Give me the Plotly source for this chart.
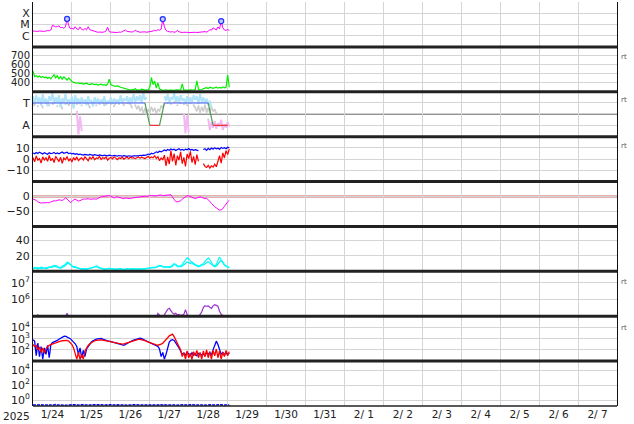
import math
import pandas as pd
import plotly.graph_objects as go
from plotly.subplots import make_subplots

# ---------------- data ----------------
START = "2025-01-24 00:00"
X_RANGE = ["2025-01-24 00:00", "2025-02-08 00:00"]
DAY_LABELS = ["1/24", "1/25", "1/26", "1/27", "1/28", "1/29", "1/30", "1/31",
              "2/ 1", "2/ 2", "2/ 3", "2/ 4", "2/ 5", "2/ 6", "2/ 7"]
YEAR_LABEL = "2025"

# Panel 1: X-ray flux (units of 1e-6 W/m2), hourly
xray_c = [2.6, 2.5, 2.8, 2.4, 2.6, 2.5, 2.7, 2.4, 2.6, 2.9, 2.7, 3.2,
          8.5, 7.0, 6.0, 6.5, 7.5, 5.0, 5.5, 4.6, 6.0,
          31,
          8.0, 4.2, 4.6, 3.8, 6.3, 4.0, 3.5, 6.0, 3.6, 3.2, 4.4, 3.3, 6.2, 3.4, 3.0, 2.8,
          2.4, 2.1, 2.0, 2.1, 1.9, 2.0, 2.2, 2.6, 5.6, 2.3,
          2.1, 2.0, 2.2, 2.0, 1.9, 2.1, 2.0, 2.3, 2.6, 3.2, 2.4, 2.2, 2.0, 2.1, 2.3, 3.0,
          2.5, 2.2, 2.0, 2.1, 2.3, 2.2, 2.0, 2.1, 2.4, 2.3, 2.6, 3.0, 2.7, 3.4, 3.0, 3.8,
          30,
          6.0, 3.0, 2.4, 2.2, 2.1, 2.3, 2.0, 2.2, 2.9, 2.2, 2.0, 1.9, 2.0, 2.1, 2.0, 1.9,
          2.0, 2.1, 2.2, 2.0, 1.9, 2.0, 2.1, 2.0, 2.2, 2.3, 2.1, 2.4,
          3.5, 3.0, 5.0, 3.6, 3.2, 6.0, 4.0,
          20,
          5.0, 3.2, 3.0, 3.4, 3.0]
flare_hours = [21, 80, 116]
flare_peak_c = [31, 30, 20]
XMC_TICKS = [1e-6, 1e-5, 1e-4]
XMC_LABELS = ["C", "M", "X"]

# Panel 2: solar wind speed (km/s)
speed = [530, 470, 480, 465, 475, 460, 470, 455, 465, 450, 460, 445,
         470, 490, 455, 480, 445, 470, 440, 465, 450, 430, 455, 430, 415,
         405, 400, 395, 400, 390, 395, 385, 390, 395, 385, 380, 390, 385, 380, 385,
         375, 380, 385, 375, 380, 370, 385,
         440, 380,
         370, 365, 360, 365, 355, 350, 345, 340, 335, 330,
         322, 318, 325, 320, 335, 318, 320, 316, 330, 320, 318, 322, 320,
         350, 459, 380, 420, 340, 400, 330,
         320, 315, 318, 322, 316, 320, 318, 315, 320, 317, 322, 318, 320,
         389,
         318, 320, 316, 319, 322, 317, 320, 325,
         422,
         330, 320, 325, 335, 340, 345, 335, 350, 340, 338, 345, 352, 340, 348, 342, 355, 345, 350,
         489, 350]

# Panel 3: IMF sector (T = 3, A = 1)
sector_lightblue = [3.6, 2.9, 3.7, 3.1, 3.5, 2.8, 3.8, 3.0, 3.4, 2.7, 3.6, 3.2, 3.9, 2.9, 3.5, 3.0,
                    3.7, 2.6, 3.4, 3.1, 3.8, 2.9, 3.3, 3.0, 3.6, 2.5, 3.7, 3.1, 3.4, 2.9, 3.5, 3.0,
                    3.3, 2.8, 3.6, 3.1, 3.2, 2.7, 3.5, 3.0, 3.4, 2.9, 3.3, 3.1, 3.6, 2.8, 3.2, 3.0,
                    3.5, 2.9, 3.4, 3.1, 3.3, 2.9, 3.7, 3.0, 3.4, 3.2, 3.6, 2.9, 3.5, 3.1, 3.8, 3.0,
                    3.6, 3.2, 3.7, 3.0, 3.9, 3.3, 3.5,
                    None, None, None, None, None, None, None, None, None, None,
                    3.6, 3.2, 3.8, 3.0, 3.5, 3.3, 3.9, 3.1, 3.6, 3.0, 3.7, 3.2, 3.4, 2.9, 3.6,
                    3.1, 3.5, 3.0, 3.7, 3.3, 3.6, 2.9, 3.8, 3.1, 3.5, 3.0, 3.4, 2.8, 3.2, 2.6,
                    None, None, None, None, None, None, None, None, None, None, None]
sector_gray = [3.0, 2.8, None, 2.7, None, 2.9, 2.6, None, 3.0, None, 2.8, None, 2.9, 3.1, None, 2.7,
               None, 3.0, 2.5, None, 2.9,
               None, 2.8, 3.0, None, 2.7, None, 2.9, 3.1, None, 2.8, None, 3.0, None, 2.9, 2.6,
               None, 3.0, None, 2.8, None,
               2.9, None, 3.1, 2.8, None, 3.0, None, 2.9, None, 2.7, 3.0, None, 2.9, None, 3.1,
               2.8, None, 3.0, None, 2.9, 2.6, None, 2.8, 2.5, 2.7,
               2.3, 2.6, 2.1, 2.5, 2.0, 2.4, 2.2, 2.6, 2.3, 2.5, 2.1, 2.4, 2.3, 2.7, 2.6, 2.9,
               None, 3.0, None, 2.9, None, 3.1, None, 2.8, None, 3.0, None, 2.9, None, 2.8, None, 3.0,
               None, 2.8,
               2.6, 2.3, 2.7, 2.2, 2.6, 2.3, 2.8, 2.2, 2.5, 2.2, 2.6, 2.3, 2.4, 2.1,
               None, None, None, None, None, None, None, None]
sector_pink = ([None] * 27 + [2.3, 0.2, 1.8, 0.5] + [None] * 62 + [2.1, 0.3, 1.9, 0.4]
               + [None] * 11
               + [1.6, 0.6, 1.3, 0.8, 1.4, 0.7, 1.2, 0.9, 1.5, 0.6, 1.1, 0.8, 1.3, 0.9])
sector_step_hours = [0, 69, 72, 78, 81, 108, 111, 120]
sector_step_value = [3, 3, 1, 1, 3, 3, 1, 1]
SECTOR_TICKS = [1, 3]
SECTOR_LABELS = ["A", "T"]
SECTOR_MID = 2

# Panel 4: IMF Bt (blue) and Bz (red), nT
bt = [5.5, 4.8, 5.9, 5.0, 6.2, 5.3, 4.6, 5.8, 5.1, 4.4, 5.6, 4.9, 5.2, 6.0, 4.7, 5.5,
      4.8, 5.9, 6.4, 5.2, 5.8, 6.1, 4.9, 5.4, 4.6, 5.0, 4.3, 4.8, 4.1, 4.5,
      4.0, 3.6, 4.2, 3.8, 3.5, 4.1, 3.7, 3.3, 3.9, 3.5, 3.2, 3.8, 3.4, 3.0, 3.6, 3.3,
      2.9, 3.5, 3.1, 2.8, 3.4, 3.0, 2.7, 3.2, 2.9, 2.6, 3.1, 2.8, 2.5, 3.0, 2.7, 2.5,
      3.0, 2.8, 3.2, 2.9, 3.4, 3.1, 3.6, 3.3,
      3.8, 4.5, 4.0, 5.2, 4.6, 5.8, 6.5, 5.9, 7.0, 6.4, 7.6, 8.2,
      7.5, 8.6, 7.9, 9.0, 8.2, 8.8, 7.6, 8.5, 9.2, 8.0, 8.7, 7.8, 8.9, 8.3, 9.4, 8.1,
      8.6, 7.9, 8.4,
      8.0, 7.5, None, None,
      8.5, 9.2, 7.8, 9.6, 8.4, 9.9, 8.8, 10.2, 9.1, 9.8, 8.7, 10.4, 9.5, 10.1, 9.3, 10.6, 10.0]
bz = [1.5, -2.5, 2.8, -1.0, 0.5, -3.5, 2.0, -0.8, 1.2, -2.0, 3.2, -1.5, 0.8, -3.0, 2.5, 0.0,
      -2.2, 1.8, -3.8, 1.0, -0.5, 2.4, -1.8, 0.6, -2.6, 1.4, -0.9, 2.0, -1.4, 0.3,
      1.2, -0.8, 2.0, 0.4, -1.5, 1.6, 0.2, 2.2, -0.6, 1.0, 0.5, 2.4, -0.3, 1.3, 0.6, 1.9,
      -1.0, 0.8, 1.5, 0.2, 2.0, 0.9, -0.4, 1.2, 0.5, 1.7, 0.0, 1.0, 1.6, 0.3, 1.9, 0.8,
      1.2, 0.4, 1.5, 2.0, 0.7, 1.8, 1.1, 0.5,
      1.5, 2.5, 0.8, 2.0, 1.2, 3.0, 0.5, 2.2, -1.5, 1.0, -0.5, 3.5,
      -6.0, 2.0, -4.5, 7.5, -2.0, 5.0, -5.5, 3.0, -1.0, 6.5, -4.0, 1.5, -6.5, 4.5, 0.5, 7.0,
      -3.0, 2.5, -5.0,
      4.0, -2.0, None, None,
      -4.0, -6.5, -7.5, -5.5, -8.0, -6.0, -7.2, -4.5, -6.8, -2.0, 3.0, -3.5, 5.5, 1.0, 7.5, 4.0, 9.0]

# Panel 5: Dst index (nT)
dst = [-8, -10, -13, -18, -21, -22, -21, -22, -21, -20, -21, -18, -15, -14, -15, -13,
       -11, -12, -13, -10, -5, -8, -15, -20, -17, -11, -9, -12, -15, -14, -11, -8,
       -9, -8, -7, -9, -8, -7, -8, -9, -6, -3, -1, 0, 1, 2, 3, 3,
       1, -2, -5, -2, -1, -3, -5, -6, -7, -5, -6, -8, -7, -5, -4, -3,
       -2, -2, -1, -1, 0, 1, 0, 2, 3, 3, 2, 3, 2, 4, 5, 5,
       3, 4, 3, 5, 7, 6, -2, -10, -17, -18, -17, -14, -9, -4, 0, 3,
       2, 0, -1, -3, -7, -5, -2, -1, -3, -5, -7, -6, -10, -16, -23, -30,
       -34, -38, -43, -46, -44, -41, -33, -23, -18, -13]

# Panel 6: two cyan series
cyan_a = [4, 5, 3.5, 5, 4, 5.5, 4, 3.5, 5, 4.5, 5, 6, 7,
          7.5, 6, 5, 4.5, 5, 6, 7, 9,
          12, 10, 8, 7, 6, 6, 5,
          4, 3.5, 3.5, 3, 3.5, 3, 3.5, 4, 4.5, 5,
          6, 6.5, 5, 4, 3.5,
          3.5, 3, 3, 3.5, 4, 3.5, 3, 3, 2.5, 3, 3.5, 3, 2.5, 2.5, 3, 3, 2.5, 3, 3.5, 3,
          3, 2.5, 3, 3, 3.5, 3, 3.5, 4, 4,
          4.5, 5, 4.5, 5, 5.5, 6.5, 7.5, 6.5, 5.5,
          5, 5.5, 6, 5, 6, 8, 10, 8, 6,
          6, 7, 9, 12, 15, 17.5, 16,
          13, 11, 9, 8, 7.5, 7, 6.5, 8,
          10, 13, 16, 17.5, 15, 11, 8, 7,
          9, 14, 18.5, 15, 11, 9, 7, 6, 5]
cyan_b = [3, 3.5, 4.5, 3, 4.5, 3.5, 5, 4, 3.5, 4, 6, 5, 5.5,
          6, 7.5, 6, 5.5, 4, 5, 6, 7.5,
          10, 11, 9, 6.5, 5, 5, 4.5,
          3.5, 3, 3, 3.5, 3, 2.5, 3, 3.5, 4, 4.5,
          5.5, 7, 6, 4.5, 3,
          3, 2.5, 3, 3, 3.5, 3, 3.5, 2.5, 3, 2.5, 3, 3.5, 3, 3, 2.5, 3.5, 3, 3, 2.5, 3.5,
          3, 3, 3.5, 2.5, 3, 3.5, 3, 3.5, 4.5,
          4, 4.5, 5.5, 4.5, 5, 6, 7, 7.5, 6,
          5.5, 5, 5.5, 6, 5.5, 7, 9, 9, 7,
          6.5, 6, 7, 8, 10, 12, 11,
          10, 12, 10, 8, 7, 6, 7, 9,
          8, 10, 11, 12.5, 10, 9, 7.5, 6,
          7, 10, 12, 14, 10, 8, 6.5, 5, 4.5]

# Panel 7: electron flux
electron = [6e4, 7e4, 9e4, 1.2e5,
            6e4, 5e4, 5e4, 4e4, 5e4, 4e4, 5e4, 4e4, 4e4, 5e4, 4e4, 5e4, 4e4, 5e4, 6e4, 7e4,
            9e4, 1.5e5, 8e4,
            5e4, 4e4, 5e4, 6e4, 5e4, 4e4, 5e4, 4e4, 5e4, 6e4,
            5e4, 4e4, 4e4, 5e4, 5e4, 4e4, 5e4, 6e4, 5e4, 4e4,
            5e4, 4e4, 5e4, 5e4, 4e4, 5e4, 6e4, 5e4, 4e4, 5e4,
            4e4, 5e4, 5e4, 4e4, 5e4, 6e4, 5e4, 4e4, 5e4, 5e4,
            4e4, 5e4, 6e4, 5e4, 4e4, 5e4, 5e4, 6e4, 5e4, 6e4,
            7e4, 6e4, 7e4,
            8e4, 1.5e5, 1.1e5, 9e4, 1.0e5, 1.2e5, 1.8e5, 2.6e5, 3.0e5, 2.0e5, 1.6e5, 1.3e5,
            1.5e5, 1.2e5, 1.3e5, 1.1e5, 1.2e5, 1.3e5, 2.5e5, 1.3e5, 1.0e5,
            8e4, 7e4, 6e4, 7e4, 8e4, 9e4,
            1.3e5, 1.8e5, 3.3e5, 4.3e5, 4.0e5, 4.2e5, 3.5e5, 3.0e5, 4.2e5, 5.0e5, 4.5e5,
            4.0e5, 2.0e5, 1.3e5, 1.1e5,
            8e4, 7e4, 6e4, 6e4]
ELECTRON_ALERTS = [1e6, 1e7]

# Panel 8: proton flux (blue, red)
proton_blue = [800, 600, 30, 400, 25, 200, 15, 150, 40, 250, 20, 300, 450, 500, 600, 700,
               900, 1100, 1400, 1600, 1700, 1500, 1300, 1000, 700, 500, 350, 200, 40, 150, 20, 90,
               25, 120, 200, 350, 500, 650, 800, 900, 950, 1000, 1050, 900, 850, 750, 650, 600,
               550, 480, 420, 380, 350, 330, 300, 260, 250, 300, 380, 450, 550, 650, 750, 850,
               950, 1050, 1100, 1000, 850, 700, 550, 450, 400, 350, 320, 280, 250, 200, 120, 25,
               60, 15, 40, 200, 500, 700, 800, 700, 450, 250, 150, 80, 40, 50, 35, 60,
               40, 30, 55, 35, 45, 30, 50, 40, 35, 45, 30, 55, 40, 60, 35, 100,
               250, 600, 300, 80, 40, 60, 35, 55, 40, 50]
proton_red = [300, 200, 250, 100, 180, 60, 150, 50, 120, 200, 250, 300, 350, 380, 420, 500,
              550, 600, 650, 700, 750, 700, 600, 450, 300, 150, 40, 15, 60, 14, 40, 15,
              80, 150, 250, 350, 450, 550, 650, 700, 750, 800, 780, 750, 700, 650, 600, 550,
              500, 450, 420, 400, 380, 360, 340, 330, 340, 380, 420, 480, 550, 620, 680, 740,
              800, 850, 880, 850, 780, 680, 580, 500, 430, 380, 340, 300, 280, 260, 280, 320,
              400, 550, 800, 1200, 1800, 2300, 2500, 1500, 800, 400, 200, 100, 25, 60, 15, 80,
              20, 50, 14, 70, 30, 90, 20, 60, 15, 80, 25, 100, 20, 70, 15, 90,
              30, 120, 20, 80, 15, 60, 25, 90, 30, 70]
PROTON_ALERT = 1e4

# Panel 9: bottom series
bottom_flux = [0.22, 0.21, 0.23, 0.20, 0.22, 0.24, 0.21, 0.20, 0.22, 0.23,
               0.21, 0.22, 0.20, 0.23, 0.25, 0.22, 0.21, 0.23, 0.24, 0.22,
               0.21, 0.20, 0.22, 0.23, 0.21, 0.22, 0.24, 0.21, 0.20, 0.22,
               0.23, 0.22, 0.21, 0.23, 0.22, 0.20, 0.21, 0.23, 0.24, 0.22,
               0.21, 0.22, 0.23, 0.21, 0.20, 0.22, 0.24, 0.23, 0.21, 0.22,
               0.20, 0.21, 0.23, 0.22, 0.21, 0.24, 0.22, 0.21, 0.20, 0.22,
               0.23, 0.21, 0.22, 0.24, 0.23, 0.21, 0.22, 0.20, 0.21, 0.23,
               0.22, 0.21, 0.23, 0.24, 0.22, 0.21, 0.20, 0.22, 0.23, 0.21,
               0.22, 0.24, 0.21, 0.20, 0.22, 0.23, 0.21, 0.22, 0.20, 0.21,
               0.23, 0.22, 0.21, 0.24, 0.22, 0.20, 0.21, 0.23, 0.22, 0.21,
               0.20, 0.22, 0.23, 0.21, 0.22, 0.24, 0.21, 0.20, 0.22, 0.23,
               0.21, 0.22, 0.20, 0.23, 0.21, 0.22, 0.24, 0.21, 0.22, 0.20,
               0.21, 0.22]

# ---------------- figure ----------------
t0 = pd.Timestamp(START)


def times_for(arr):
    return t0 + pd.to_timedelta(range(len(arr)), unit="h")


fig = make_subplots(rows=9, cols=1, shared_xaxes=True, vertical_spacing=0)

# panel 1
fig.add_trace(go.Scatter(x=times_for(xray_c), y=[v * 1e-6 for v in xray_c], mode="lines",
                         line=dict(color="#ff00ff", width=1)), row=1, col=1)
fig.add_trace(go.Scatter(x=t0 + pd.to_timedelta(flare_hours, unit="h"),
                         y=[v * 1e-6 for v in flare_peak_c], mode="markers",
                         marker=dict(symbol="circle", size=5, color="#c8c8ff",
                                     line=dict(color="#2233ff", width=1.3))), row=1, col=1)
# panel 2
fig.add_trace(go.Scatter(x=times_for(speed), y=speed, mode="lines",
                         line=dict(color="#00ee00", width=1.2)), row=2, col=1)
# panel 3
fig.add_trace(go.Scatter(x=times_for(sector_gray), y=sector_gray, mode="lines+markers",
                         line=dict(color="#cccccc", width=1.5),
                         marker=dict(color="#cccccc", size=2)), row=3, col=1)
fig.add_trace(go.Scatter(x=times_for(sector_lightblue), y=sector_lightblue, mode="lines",
                         line=dict(color="#b0e4fc", width=2)), row=3, col=1)
fig.add_trace(go.Scatter(x=times_for(sector_pink), y=sector_pink, mode="lines",
                         line=dict(color="#f2b8f2", width=2)), row=3, col=1)
for i in range(len(sector_step_hours) - 1):
    a, b = sector_step_value[i], sector_step_value[i + 1]
    col = "#4a5cf0" if (a == 3 and b == 3) else ("#ee3333" if (a == 1 and b == 1) else "#4f9a4f")
    fig.add_trace(go.Scatter(x=t0 + pd.to_timedelta(sector_step_hours[i:i + 2], unit="h"),
                             y=[a, b], mode="lines", line=dict(color=col, width=1.2)),
                  row=3, col=1)
# panel 4
fig.add_trace(go.Scatter(x=times_for(bt), y=bt, mode="lines",
                         line=dict(color="#0000ff", width=1.2)), row=4, col=1)
fig.add_trace(go.Scatter(x=times_for(bz), y=bz, mode="lines",
                         line=dict(color="#ff0000", width=1.2)), row=4, col=1)
# panel 5
fig.add_trace(go.Scatter(x=times_for(dst), y=dst, mode="lines",
                         line=dict(color="#ff00ff", width=1)), row=5, col=1)
# panel 6
fig.add_trace(go.Scatter(x=times_for(cyan_b), y=cyan_b, mode="lines",
                         line=dict(color="#00f0f0", width=1.2)), row=6, col=1)
fig.add_trace(go.Scatter(x=times_for(cyan_a), y=cyan_a, mode="lines",
                         line=dict(color="#00ffff", width=1.2)), row=6, col=1)
# panel 7
fig.add_trace(go.Scatter(x=times_for(electron), y=electron, mode="lines",
                         line=dict(color="#9a30d0", width=1.2)), row=7, col=1)
# panel 8
fig.add_trace(go.Scatter(x=times_for(proton_blue), y=proton_blue, mode="lines",
                         line=dict(color="#0000ff", width=1.3)), row=8, col=1)
fig.add_trace(go.Scatter(x=times_for(proton_red), y=proton_red, mode="lines",
                         line=dict(color="#ff0000", width=1.3)), row=8, col=1)
# panel 9
fig.add_trace(go.Scatter(x=times_for(bottom_flux), y=bottom_flux, mode="lines",
                         line=dict(color="#0000ff", width=1.5, dash="3px,1px")), row=9, col=1)

# ---------------- axes ----------------
day_starts = list(pd.date_range(X_RANGE[0], X_RANGE[1], freq="D"))
noons = [d + pd.Timedelta(hours=12) for d in day_starts[:len(DAY_LABELS)]]
GRID = "#d4d4d4"
TICKFONT = dict(family="DejaVu Sans", size=11, color="#222")

fig.update_xaxes(range=X_RANGE, tickmode="array", tickvals=noons, ticktext=DAY_LABELS,
                 showgrid=False, zeroline=False, ticks="", showline=False,
                 tickfont=dict(family="DejaVu Sans", size=10.5, color="#222"),
                 minor=dict(tickmode="array", tickvals=day_starts, showgrid=True,
                            gridcolor=GRID, gridwidth=1, ticks=""))


def sup(n):
    return "10<sup>%d</sup>" % n


yaxes = [
    dict(type="log", range=[-7, -3], tickvals=XMC_TICKS, ticktext=XMC_LABELS),
    dict(range=[300, 800], tickvals=[400, 500, 600, 700]),
    dict(range=[0, 4], tickvals=SECTOR_TICKS, ticktext=SECTOR_LABELS),
    dict(range=[-20, 20], tickvals=[-10, 0, 10]),
    dict(range=[-100, 50], tickvals=[-50, 0]),
    dict(range=[0, 58], tickvals=[20, 40]),
    dict(type="log", range=[5, 7.7], tickvals=[1e6, 1e7], ticktext=[sup(6), sup(7)]),
    dict(type="log", range=[1, 5], tickvals=[1e2, 1e3, 1e4], ticktext=[sup(2), sup(3), sup(4)]),
    dict(type="log", range=[-0.8, 5.2], tickvals=[1, 1e2, 1e4], ticktext=[sup(0), sup(2), sup(4)]),
]
for i, ya in enumerate(yaxes):
    tf = dict(TICKFONT)
    if i == 1:
        tf["size"] = 10
    fig.update_yaxes(row=i + 1, col=1, tickmode="array", showgrid=True, gridcolor=GRID,
                     zeroline=False, ticks="", showline=True, mirror=True,
                     linecolor="#111", linewidth=1, tickfont=tf, **ya)

# ---------------- reference lines ----------------
shapes = []
ref_lines = [
    ("y3", SECTOR_MID, "#666666", 1, "solid"),
    ("y4", 0, "#aa0000", 1, "solid"),
    ("y5", 0, "#cd6060", 2, "solid"),
    ("y7", math.log10(ELECTRON_ALERTS[0]), "#cc0000", 1.2, "solid"),
    ("y7", math.log10(ELECTRON_ALERTS[1]), "#cc0000", 1.2, "solid"),
    ("y8", math.log10(PROTON_ALERT), "#dd3333", 1.5, "8px,4px"),
]
for yref, yv, colr, w, dash in ref_lines:
    shapes.append(dict(type="line", xref="paper", x0=0, x1=1, yref=yref, y0=yv, y1=yv,
                       line=dict(color=colr, width=w, dash=dash), layer="between"))
for k in range(9):
    shapes.append(dict(type="line", xref="paper", x0=0, x1=1, yref="paper", y0=k / 9, y1=k / 9,
                       line=dict(color="#222", width=3 if k else 1.5), layer="above"))

annotations = []
for yp in [0.864, 0.757, 0.643, 0.306, 0.194]:
    annotations.append(dict(text="rt", x=1.012, y=yp, xref="paper", yref="paper",
                            showarrow=False, font=dict(family="DejaVu Sans", size=7, color="#555"),
                            xanchor="center", yanchor="middle"))
annotations.append(dict(text=YEAR_LABEL, x=-0.028, y=-0.025, xref="paper", yref="paper",
                        showarrow=False, font=dict(family="DejaVu Sans", size=10.5, color="#222"),
                        xanchor="center", yanchor="middle"))

fig.update_layout(width=634, height=424, margin=dict(l=33, r=17, t=2, b=18),
                  paper_bgcolor="white", plot_bgcolor="white", showlegend=False,
                  shapes=shapes, annotations=annotations,
                  font=dict(family="DejaVu Sans", size=11, color="#222"))

fig.write_html("out.html", config={"displayModeBar": False},
               post_script="document.body.style.margin='0';document.body.style.padding='0';")
